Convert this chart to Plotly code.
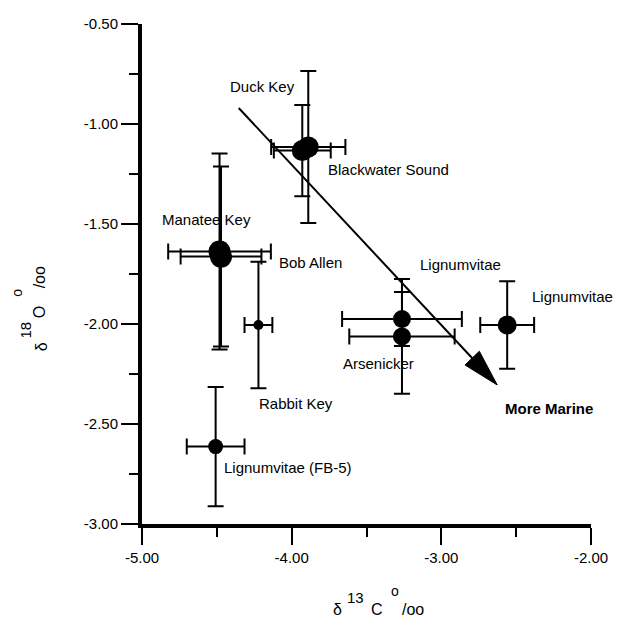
import plotly.graph_objects as go
import math

# ---------------- data ----------------
site_names = ["Duck Key", "Blackwater Sound", "Manatee Key", "Bob Allen",
              "Rabbit Key", "Lignumvitae (FB-5)", "Lignumvitae", "Arsenicker",
              "Lignumvitae"]
d13C = [-3.889, -3.929, -4.482, -4.472, -4.222, -4.508, -3.263, -3.263, -2.560]
d18O = [-1.115, -1.133, -1.638, -1.663, -2.005, -2.613, -1.975, -2.062, -2.005]
d13C_err = [0.248, 0.190, 0.343, 0.270, 0.093, 0.193, 0.400, 0.352, 0.180]
d18O_err = [0.380, 0.228, 0.490, 0.450, 0.316, 0.298, 0.135, 0.287, 0.219]

x_ticks = [-5.0, -4.0, -3.0, -2.0]
x_tick_labels = ["-5.00", "-4.00", "-3.00", "-2.00"]
y_ticks = [-3.0, -2.5, -2.0, -1.5, -1.0, -0.5]
y_tick_labels = ["-3.00", "-2.50", "-2.00", "-1.50", "-1.00", "-0.50"]

# styles (not data)
marker_px = [21, 21, 22, 22, 10, 15, 18, 18, 19]

# ---------------- geometry ----------------
W, H = 620, 621
L, R, T, B = 142, 23, 24, 97
PW, PH = W - L - R, H - T - B
X_MIN, X_MAX = -5.0, -2.0
Y_MIN, Y_MAX = -3.0, -0.5


def px2x(px):
    return X_MIN + (px - L) / PW * (X_MAX - X_MIN)


def py2y(py):
    return Y_MAX - (py - T) / PH * (Y_MAX - Y_MIN)


def pxp(px):
    return (px - L) / PW


def pyp(py):
    return (T + PH - py) / PH


FONT = "Liberation Sans, Arial, sans-serif"

fig = go.Figure()
fig.add_trace(go.Scatter(
    x=d13C, y=d18O, mode="markers",
    marker=dict(color="black", size=marker_px, opacity=1, line=dict(width=0)),
    error_x=dict(type="data", array=d13C_err, visible=True,
                 color="black", thickness=2, width=8),
    error_y=dict(type="data", array=d18O_err, visible=True,
                 color="black", thickness=2, width=8),
    text=site_names, hoverinfo="text", showlegend=False,
    cliponaxis=False,
))

# ---------------- point labels (pixel layout positions) ----------------
label_pos = [
    ("Duck Key", 229, 86, False),
    ("Blackwater Sound", 328, 169, False),
    ("Manatee Key", 160, 219, False),
    ("Bob Allen", 279, 262, False),
    ("Rabbit Key", 259, 403, False),
    ("Lignumvitae (FB-5)", 223, 467, False),
    ("Lignumvitae", 422, 264, False),
    ("Lignumvitae", 535, 296, False),
    ("Arsenicker", 344, 364, False),
    ("More Marine", 508, 408, True),
]
annotations = []
for txt, lx, ly, bold in label_pos:
    annotations.append(dict(
        x=pxp(lx), y=pyp(ly), xref="paper", yref="paper",
        text=("<b>%s</b>" % txt) if bold else txt,
        showarrow=False, xanchor="left", yanchor="middle",
        font=dict(family=FONT, size=15, color="black"),
    ))

# ---------------- axis titles (split pieces) ----------------
x_title = [("δ", 340, 609, 16), ("13", 358, 597, 15), ("C", 380, 609, 16),
           ("o", 398, 591, 14), ("/oo", 417, 609, 16)]
for txt, cx, cy, fs in x_title:
    annotations.append(dict(
        x=pxp(cx), y=pyp(cy), xref="paper", yref="paper", text=txt,
        showarrow=False, xanchor="center", yanchor="middle",
        font=dict(family=FONT, size=fs, color="black"),
    ))
y_title = [("δ", 40, 347, 16), ("18", 23, 330, 15), ("O", 38, 312, 16),
           ("o", 15, 293, 14), ("/oo", 38, 277, 16)]
for txt, cx, cy, fs in y_title:
    annotations.append(dict(
        x=pxp(cx), y=pyp(cy), xref="paper", yref="paper", text=txt,
        showarrow=False, xanchor="center", yanchor="middle", textangle=-90,
        font=dict(family=FONT, size=fs, color="black"),
    ))

# ---------------- "More Marine" arrow ----------------
arrow_start = (px2x(240), py2y(108))
arrow_tip = (px2x(502), py2y(385))
sx = PW / (X_MAX - X_MIN)
sy = PH / (Y_MAX - Y_MIN)
dxp = (arrow_tip[0] - arrow_start[0]) * sx
dyp = -(arrow_tip[1] - arrow_start[1]) * sy
ln = math.hypot(dxp, dyp)
ux, uy = dxp / ln, dyp / ln
head_len, head_half = 37, 10
tip_px = ((arrow_tip[0] - X_MIN) * sx + L, (Y_MAX - arrow_tip[1]) * sy + T)
base_px = (tip_px[0] - head_len * ux, tip_px[1] - head_len * uy)
c1 = (base_px[0] - head_half * uy, base_px[1] + head_half * ux)
c2 = (base_px[0] + head_half * uy, base_px[1] - head_half * ux)

shapes = [
    dict(type="line", xref="x", yref="y",
         x0=arrow_start[0], y0=arrow_start[1],
         x1=px2x(base_px[0] + 4 * ux), y1=py2y(base_px[1] + 4 * uy),
         line=dict(color="black", width=2)),
    dict(type="path", xref="x", yref="y",
         path="M %f,%f L %f,%f L %f,%f Z" % (
             arrow_tip[0], arrow_tip[1],
             px2x(c1[0]), py2y(c1[1]),
             px2x(c2[0]), py2y(c2[1])),
         fillcolor="black", line=dict(color="black", width=1)),
]

axis_common = dict(
    showgrid=False, zeroline=False, showline=True, linecolor="black",
    linewidth=4, ticks="outside", tickcolor="black", tickwidth=2,
    ticklen=17, mirror=False,
    tickfont=dict(family=FONT, size=15, color="black"),
)

fig.update_layout(
    width=W, height=H,
    margin=dict(l=L, r=R, t=T, b=B, pad=0),
    paper_bgcolor="white", plot_bgcolor="white",
    xaxis=dict(range=[X_MIN, X_MAX], tickvals=x_ticks, ticktext=x_tick_labels,
               minor=dict(dtick=0.5, tick0=-5, ticks="outside", ticklen=9,
                          tickwidth=2, tickcolor="black", showgrid=False),
               **axis_common),
    yaxis=dict(range=[Y_MIN, Y_MAX], tickvals=y_ticks, ticktext=y_tick_labels,
               minor=dict(dtick=0.25, tick0=-3, ticks="outside", ticklen=9,
                          tickwidth=2, tickcolor="black", showgrid=False),
               **axis_common),
    annotations=annotations,
    shapes=shapes,
    showlegend=False,
)

fig.write_html("out.html")
